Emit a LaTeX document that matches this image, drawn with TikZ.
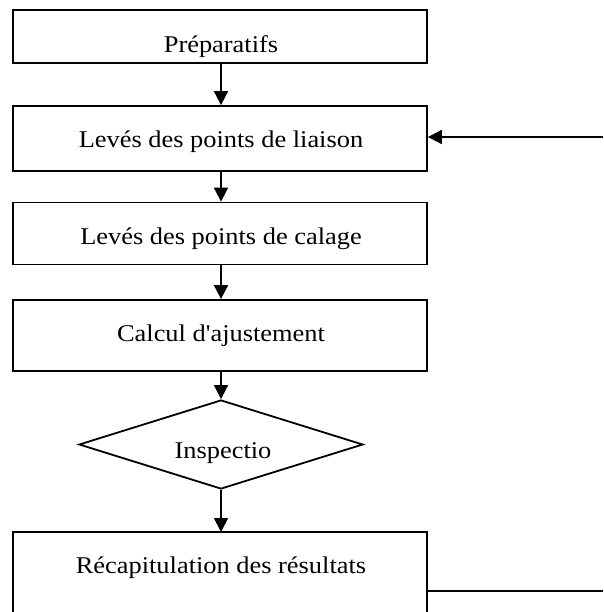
\documentclass[tikz,border=0pt]{standalone}
\usepackage{fontspec}
% plain family: no TeX ligature mapping, so ' stays a straight apostrophe
\newfontfamily\boxfont[FakeStretch=1.1]{Liberation Serif}
\usetikzlibrary{arrows.meta,shapes.geometric}
\begin{document}
\begin{tikzpicture}[x=1pt,y=-1pt,
  txt/.style={font=\boxfont\fontsize{24}{28}\selectfont, anchor=base, inner sep=0pt},
  stepbox/.style={draw, line width=1.8pt, rectangle, minimum width=414pt, inner sep=0pt},
  decision/.style={draw, line width=1.8pt, diamond, minimum width=284pt, minimum height=89pt, inner sep=0pt},
  flow/.style={line width=1.8pt, -{Triangle[width=14pt,length=14pt]}}]
\useasboundingbox (0,0) rectangle (603,612);
% boxes
\node[stepbox, minimum height=53pt] (prep) at (220,36.5) {};
\node[stepbox, minimum height=65pt] (liaison) at (220,138.5) {};
\node[stepbox, minimum height=62pt] (calage) at (220,233.5) {};
\node[stepbox, minimum height=71pt] (calcul) at (220,335.5) {};
\node[decision] (insp) at (221,444.5) {};
% texts, placed on their baselines
\node[txt] (preplbl) at (221,52.3) {Préparatifs};
\node[txt] (liaisonlbl) at (221,147.3) {Levés des points de liaison};
\node[txt] (calagelbl) at (221,244.3) {Levés des points de calage};
\node[txt] (calcullbl) at (221,341.7) {Calcul d'ajustement};
\node[txt] (insplbl) at (223,458) {Inspectio};
% last step: open at the bottom, its sides run off the page
\coordinate (rtl) at (13,532);
\coordinate (rtr) at (427,532);
\node[txt] (recap) at (221,573) {Récapitulation des résultats};
\draw[line width=1.8pt] (13,620) -- (rtl) -- (rtr) -- (427,620);
% vertical flow
\draw[flow] (prep.south -| insp.north) -- (liaison.north -| insp.north);
\draw[flow] (liaison.south -| insp.north) -- (calage.north -| insp.north);
\draw[flow] (calage.south -| insp.north) -- (calcul.north -| insp.north);
\draw[flow] (calcul.south -| insp.north) -- (insp.north);
\draw[flow] (insp.south) -- (rtl -| insp.south);
% return loop
\coordinate (loopin) at (603,137);
\draw[flow] (loopin) -- (loopin -| liaison.east);
\coordinate (loopout) at (603,591);
\draw[line width=2.8pt] (427,591) -- (loopout);
\end{tikzpicture}
\end{document}
